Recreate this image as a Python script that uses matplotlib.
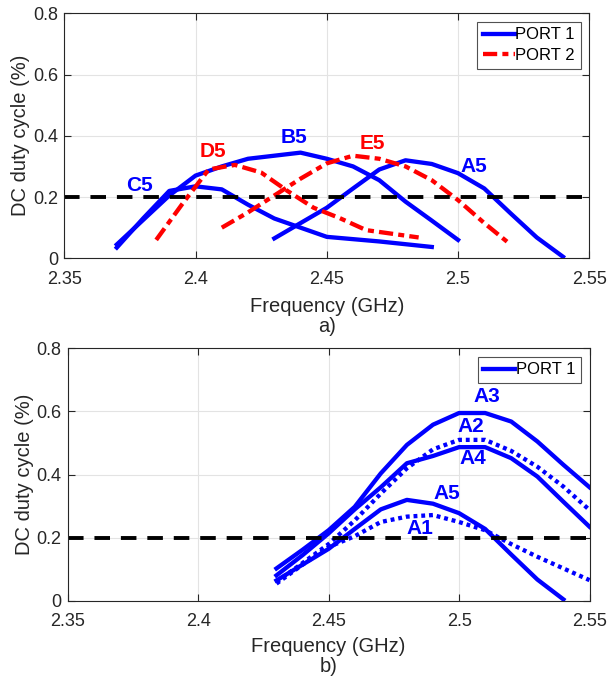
import matplotlib
matplotlib.use("Agg")
import matplotlib.pyplot as plt

plt.rcParams['font.family'] = ['Liberation Sans', 'DejaVu Sans']

# ---- panel a) data ----
c5_f = [2.37, 2.38, 2.39, 2.40, 2.41, 2.42, 2.43, 2.44, 2.45, 2.47, 2.49]
c5_v = [0.035, 0.13, 0.22, 0.235, 0.225, 0.175, 0.13, 0.10, 0.07, 0.055, 0.037]

b5_f = [2.37, 2.38, 2.39, 2.40, 2.41, 2.42, 2.43, 2.44, 2.45, 2.46, 2.47, 2.48, 2.49, 2.50]
b5_v = [0.045, 0.125, 0.205, 0.27, 0.30, 0.325, 0.335, 0.345, 0.325, 0.30, 0.255, 0.185, 0.123, 0.06]

a5_f = [2.43, 2.44, 2.45, 2.46, 2.47, 2.48, 2.49, 2.50, 2.51, 2.52, 2.53, 2.54]
a5_v = [0.065, 0.115, 0.165, 0.228, 0.29, 0.32, 0.308, 0.278, 0.228, 0.147, 0.068, 0.005]

d5_f = [2.385, 2.395, 2.405, 2.415, 2.425, 2.435, 2.445, 2.455, 2.465, 2.475, 2.485]
d5_v = [0.06, 0.178, 0.29, 0.305, 0.28, 0.22, 0.165, 0.131, 0.092, 0.08, 0.068]

e5_f = [2.41, 2.42, 2.43, 2.44, 2.45, 2.46, 2.47, 2.48, 2.49, 2.50, 2.51, 2.52]
e5_v = [0.10, 0.15, 0.205, 0.26, 0.31, 0.335, 0.325, 0.30, 0.255, 0.19, 0.115, 0.045]

# ---- panel b) data ----
b_f = [2.43, 2.44, 2.45, 2.46, 2.47, 2.48, 2.49, 2.50, 2.51, 2.52, 2.53, 2.54, 2.55]
a3_v = [0.103, 0.162, 0.224, 0.298, 0.404, 0.494, 0.558, 0.595, 0.595, 0.568, 0.505, 0.431, 0.36]
a4_v = [0.081, 0.145, 0.214, 0.29, 0.36, 0.436, 0.459, 0.487, 0.487, 0.452, 0.394, 0.314, 0.235]
a2_v = [0.06, 0.12, 0.18, 0.255, 0.34, 0.42, 0.48, 0.51, 0.51, 0.475, 0.425, 0.362, 0.288]
a1_v = [0.055, 0.115, 0.171, 0.205, 0.25, 0.267, 0.272, 0.25, 0.224, 0.18, 0.14, 0.103, 0.066]

xticks = [2.35, 2.4, 2.45, 2.5, 2.55]
xticklabels = ["2.35", "2.4", "2.45", "2.5", "2.55"]
yticks = [0, 0.2, 0.4, 0.6, 0.8]
yticklabels = ["0", "0.2", "0.4", "0.6", "0.8"]
threshold = 0.2

labels_a = [("C5", 2.3785, 0.239, 'blue'), ("D5", 2.4067, 0.348, 'red'),
            ("B5", 2.4374, 0.394, 'blue'), ("E5", 2.4675, 0.375, 'red'),
            ("A5", 2.506, 0.299, 'blue')]
labels_b = [("A3", 2.5105, 0.648), ("A2", 2.5046, 0.552), ("A4", 2.5053, 0.452),
            ("A5", 2.4954, 0.341), ("A1", 2.4849, 0.23)]

BLUE = '#0000ff'
RED = '#ff0000'
LW = 3.1
DASHDOT = (0, (3.3, 1.2, 1.4, 1.2))
DOTTED = (0, (0.9, 0.9))
BLACKDASH = (0, (4, 2.8))
TXT = '#262626'

fig = plt.figure(figsize=(6.09, 6.79), dpi=100)
ax1 = fig.add_axes([0.1056, 0.6196, 0.862, 0.3608])
ax2 = fig.add_axes([0.1112, 0.1149, 0.8568, 0.3722])


def style(ax, caption, xl_off, cap_off):
    ax.set_xlim(2.35, 2.55)
    ax.set_ylim(0, 0.8)
    ax.set_xticks(xticks)
    ax.set_xticklabels(xticklabels)
    ax.set_yticks(yticks)
    ax.set_yticklabels(yticklabels)
    ax.tick_params(direction='in', top=True, right=True, labelsize=13,
                   length=5, width=0.8, colors=TXT)
    ax.tick_params(axis='x', pad=9)
    ax.tick_params(axis='y', pad=4.5)
    ax.grid(True, color='#e3e3e3', linewidth=0.8)
    ax.set_axisbelow(True)
    for s in ax.spines.values():
        s.set_color(TXT)
        s.set_linewidth(0.8)
    ax.set_xlabel("Frequency (GHz)", fontsize=14.5, color=TXT)
    ax.xaxis.set_label_coords(0.5, xl_off, transform=ax.transAxes)
    ax.annotate(caption, xy=(0.5, 0), xycoords='axes fraction',
                xytext=(0, -cap_off), textcoords='offset points',
                ha='center', va='top', fontsize=14.5, color=TXT)
    ax.set_ylabel("DC duty cycle (%)", fontsize=14.5, color=TXT, labelpad=2)


# panel a
ax1.plot(c5_f, c5_v, color=BLUE, lw=LW, label='PORT 1')
ax1.plot(b5_f, b5_v, color=BLUE, lw=LW)
ax1.plot(a5_f, a5_v, color=BLUE, lw=LW)
ax1.plot(d5_f, d5_v, color=RED, lw=LW, linestyle=DASHDOT, label='PORT 2')
ax1.plot(e5_f, e5_v, color=RED, lw=LW, linestyle=DASHDOT)
ax1.axhline(threshold, color='black', lw=2.8, linestyle=BLACKDASH)
for t, x, y, c in labels_a:
    ax1.text(x, y, t, color=BLUE if c == 'blue' else RED, fontsize=15,
             fontweight='bold', ha='center', va='center')
leg = ax1.legend(loc='upper right', fontsize=12, fancybox=False, edgecolor=TXT,
                 handlelength=1.9, handletextpad=0.05, borderpad=0.35,
                 labelspacing=0.35, borderaxespad=0.5)
leg.get_frame().set_linewidth(0.8)
style(ax1, "a)", -39.0 / 245.0, 42.0)

# panel b
ax2.plot(a5_f, a5_v, color=BLUE, lw=LW, label='PORT 1')
ax2.plot(b_f, a3_v, color=BLUE, lw=LW)
ax2.plot(b_f, a4_v, color=BLUE, lw=LW)
ax2.plot(b_f, a2_v, color=BLUE, lw=LW, linestyle=DOTTED)
ax2.plot(b_f, a1_v, color=BLUE, lw=LW, linestyle=DOTTED)
ax2.axhline(threshold, color='black', lw=2.8, linestyle=BLACKDASH)
for t, x, y in labels_b:
    ax2.text(x, y, t, color=BLUE, fontsize=15, fontweight='bold',
             ha='center', va='center')
leg2 = ax2.legend(loc='upper right', fontsize=12, fancybox=False, edgecolor=TXT,
                  handlelength=1.9, handletextpad=0.05, borderpad=0.35,
                  borderaxespad=0.5)
leg2.get_frame().set_linewidth(0.8)
style(ax2, "b)", -36.5 / 252.7, 40.2)

fig.savefig("out.png", dpi=100)
